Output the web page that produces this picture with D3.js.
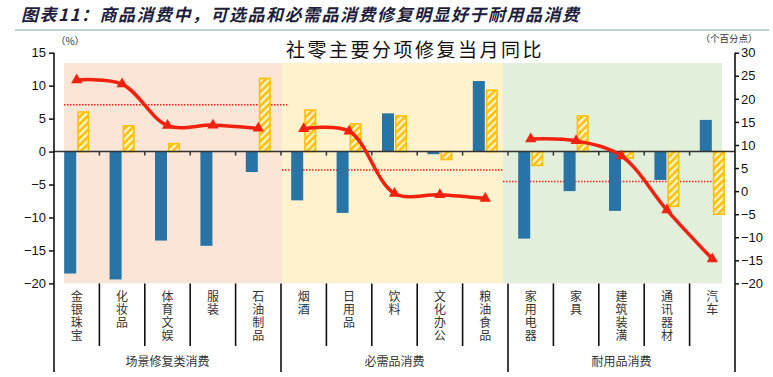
<!DOCTYPE html>
<html>
<head>
<meta charset="utf-8">
<script src="https://cdn.jsdelivr.net/npm/d3@7"></script>
<style>
  body { margin: 0; background: #fff; }
  svg { display: block; font-family: "Noto Sans CJK SC", sans-serif; }
</style>
</head>
<body>
<svg></svg>
<script>
const categories = ["金银珠宝", "化妆品", "体育文娱", "服装", "石油制品", "烟酒", "日用品", "饮料", "文化办公", "粮油食品", "家用电器", "家具", "建筑装潢", "通讯器材", "汽车"]
const groups = ["场景修复类消费", "必需品消费", "耐用品消费"]
const groupSize = 5
// left axis (%)
const blueVals = [-18.5, -19.4, -13.5, -14.3, -3.1, -7.4, -9.3, 5.8, -0.4, 10.7, -13.2, -6.0, -9.0, -4.3, 4.8]
const yellowVals = [6.0, 3.9, 1.2, 0, 11.1, 6.3, 4.2, 5.4, -1.2, 9.3, -2.1, 5.4, -1.0, -8.3, -9.5]
// right axis (个百分点)
const lineVals = [24.1, 23.2, 14.2, 14.3, 13.6, 13.5, 13.0, -0.5, -0.8, -1.6, 11.3, 10.9, 7.6, -4.1, -14.7]
const groupAvg = [18.7, 4.6, 2.1]
const leftTicks = [15, 10, 5, 0, -5, -10, -15, -20]
const rightTicks = [30, 25, 20, 15, 10, 5, 0, -5, -10, -15, -20]

function drawChart() {
    const width = 773
    const height = 377
    const plotLeft = 54
    const plotRight = 735
    const plotTop = 52.7
    const plotBottom = 283.4
    const labelBottom = 372

    const blue = "#2874a6"
    const gold = "#ffc000"
    const red = "#f0220f"
    const bgColors = ["#fbe5d6", "#fff2cc", "#e2efda"]

    let svg = d3.select("svg")
        .attr("width", width)
        .attr("height", height)

    const defs = svg.append("defs")
    const pat = defs.append("pattern")
        .attr("id", "hatch")
        .attr("width", 5)
        .attr("height", 5)
        .attr("patternUnits", "userSpaceOnUse")
        .attr("patternTransform", "rotate(45)")
    pat.append("rect").attr("width", 5).attr("height", 5).attr("fill", gold)
    pat.append("line").attr("x1", 1.5).attr("x2", 1.5).attr("y1", 0).attr("y2", 5)
        .attr("stroke", "#fff").attr("stroke-width", 2)

    // header
    svg.append("text")
        .attr("x", 21)
        .attr("y", 21)
        .style("font-size", "17px")
        .style("font-style", "italic")
        .style("font-weight", "bold")
        .style("letter-spacing", "1.5px")
        .style("fill", "#1e1e3c")
        .text("图表11：商品消费中，可选品和必需品消费修复明显好于耐用品消费")
    svg.append("line")
        .attr("x1", 15).attr("x2", 769)
        .attr("y1", 30).attr("y2", 30)
        .attr("stroke", "#a9c3c3")
        .attr("stroke-width", 1.5)

    const xScale = d3.scaleBand()
        .domain(d3.range(categories.length))
        .range([plotLeft, plotRight])
    const bw = xScale.bandwidth()
    const xPos = (i) => plotLeft + i * bw
    const cx = (i) => xScale(i) + bw / 2

    const yLeft = d3.scaleLinear().domain([-20, 15]).range([plotBottom, plotTop])
    const yRight = d3.scaleLinear().domain([-20, 30]).range([plotBottom, plotTop])

    // group backgrounds
    const bgExtents = [
        [xPos(0) + 10, xPos(5) + 1],
        [xPos(5) + 1, xPos(10) - 5],
        [xPos(10) - 5, xPos(15) - 13]
    ]
    svg.selectAll(".bg")
        .data(groups)
        .enter()
        .append("rect")
        .attr("x", (d, i) => bgExtents[i][0])
        .attr("width", (d, i) => bgExtents[i][1] - bgExtents[i][0])
        .attr("y", 63)
        .attr("height", plotBottom - 63)
        .attr("fill", (d, i) => bgColors[i])

    // chart title
    svg.append("text")
        .attr("x", 415)
        .attr("y", 57)
        .attr("text-anchor", "middle")
        .style("font-size", "19px")
        .style("letter-spacing", "2.5px")
        .style("fill", "#111")
        .text("社零主要分项修复当月同比")

    svg.append("text")
        .attr("x", 70).attr("y", 45)
        .attr("text-anchor", "middle")
        .style("font-size", "10px").style("fill", "#333")
        .text("（%）")
    svg.append("text")
        .attr("x", 729).attr("y", 42)
        .attr("text-anchor", "middle")
        .style("font-size", "9.5px").style("fill", "#333")
        .text("（个百分点）")

    // group average dotted lines
    svg.selectAll(".avg")
        .data(groupAvg)
        .enter()
        .append("line")
        .attr("x1", (d, i) => bgExtents[i][0])
        .attr("x2", (d, i) => i == 0 ? bgExtents[i][1] + 5 : bgExtents[i][1])
        .attr("y1", (d) => yRight(d))
        .attr("y2", (d) => yRight(d))
        .attr("stroke", "#ff1a1a")
        .attr("stroke-width", 1.5)
        .attr("stroke-dasharray", "1.5,1.5")

    // bars
    svg.selectAll(".blueBar")
        .data(blueVals)
        .enter()
        .append("rect")
        .attr("x", (d, i) => cx(i) - 12.5)
        .attr("width", 12)
        .attr("y", (d) => yLeft(Math.max(0, d)))
        .attr("height", (d) => Math.abs(yLeft(d) - yLeft(0)))
        .attr("fill", blue)

    svg.selectAll(".goldBar")
        .data(yellowVals.map((v, i) => ({ v: v, i: i })).filter((d) => d.v != 0))
        .enter()
        .append("rect")
        .attr("x", (d) => cx(d.i) + 1.3)
        .attr("width", 10.5)
        .attr("y", (d) => yLeft(Math.max(0, d.v)))
        .attr("height", (d) => Math.abs(yLeft(d.v) - yLeft(0)))
        .attr("fill", "url(#hatch)")
        .attr("stroke", gold)
        .attr("stroke-width", 1.6)

    // zero line with category ticks
    svg.append("line")
        .attr("x1", plotLeft).attr("x2", plotRight)
        .attr("y1", yLeft(0)).attr("y2", yLeft(0))
        .attr("stroke", "#333").attr("stroke-width", 1.5)
    svg.selectAll(".ztick")
        .data(d3.range(1, categories.length))
        .enter()
        .append("line")
        .attr("x1", (d) => xPos(d)).attr("x2", (d) => xPos(d))
        .attr("y1", yLeft(0)).attr("y2", yLeft(0) + 4)
        .attr("stroke", "#333").attr("stroke-width", 1.5)

    // red lines, one per group
    const line = d3.line()
        .x((d) => cx(d.i))
        .y((d) => yRight(d.v))
        .curve(d3.curveCatmullRom.alpha(0.5))
    const pts = lineVals.map((v, i) => ({ v: v, i: i }))
    for (let g = 0; g < groups.length; g++) {
        svg.append("path")
            .datum(pts.slice(g * groupSize, (g + 1) * groupSize))
            .attr("d", line)
            .attr("fill", "none")
            .attr("stroke", red)
            .attr("stroke-width", 3.5)
    }
    svg.selectAll(".marker")
        .data(pts)
        .enter()
        .append("path")
        .attr("d", d3.symbol().type(d3.symbolTriangle).size(55))
        .attr("transform", (d) => "translate(" + cx(d.i) + "," + yRight(d.v) + ")")
        .attr("fill", red)

    // axes
    const leftAxis = svg.append("g")
        .attr("transform", "translate(" + plotLeft + ",0)")
        .call(d3.axisLeft(yLeft).tickValues(leftTicks).tickSize(5).tickSizeOuter(0))
    const rightAxis = svg.append("g")
        .attr("transform", "translate(" + plotRight + ",0)")
        .call(d3.axisRight(yRight).tickValues(rightTicks).tickSize(4).tickSizeOuter(0))
    for (const ax of [leftAxis, rightAxis]) {
        ax.select(".domain").remove()
        ax.selectAll("line").attr("stroke", "#111").attr("stroke-width", 1.5)
        ax.selectAll("text")
            .style("font-family", "'Liberation Sans', Arial, sans-serif")
            .style("font-size", "13px")
            .style("fill", "#111")
    }
    leftAxis.selectAll("text").attr("x", -8)
    rightAxis.selectAll("text").attr("x", 6)

    // axis lines running down through the label area
    svg.selectAll(".vaxis")
        .data([plotLeft, plotRight])
        .enter()
        .append("line")
        .attr("x1", (d) => d).attr("x2", (d) => d)
        .attr("y1", plotTop).attr("y2", labelBottom)
        .attr("stroke", "#111").attr("stroke-width", 1.6)

    // category separators
    svg.selectAll(".sep")
        .data(d3.range(1, categories.length))
        .enter()
        .append("line")
        .attr("x1", (d) => xPos(d)).attr("x2", (d) => xPos(d))
        .attr("y1", plotBottom)
        .attr("y2", (d) => d % groupSize == 0 ? labelBottom : 346)
        .attr("stroke", "#111").attr("stroke-width", 1.6)

    // vertical category labels
    svg.selectAll(".cat")
        .data(categories)
        .enter()
        .append("text")
        .attr("x", (d, i) => cx(i))
        .attr("y", 290)
        .style("writing-mode", "vertical-rl")
        .style("text-orientation", "upright")
        .style("letter-spacing", "1.3px")
        .style("font-size", "12px")
        .style("fill", "#333")
        .text((d) => d)

    svg.selectAll(".grp")
        .data(groups)
        .enter()
        .append("text")
        .attr("x", (d, i) => (xPos(i * groupSize) + xPos((i + 1) * groupSize)) / 2)
        .attr("y", 366)
        .attr("text-anchor", "middle")
        .style("font-size", "12px")
        .style("fill", "#333")
        .text((d) => d)
}

drawChart()
</script>
</body>
</html>
